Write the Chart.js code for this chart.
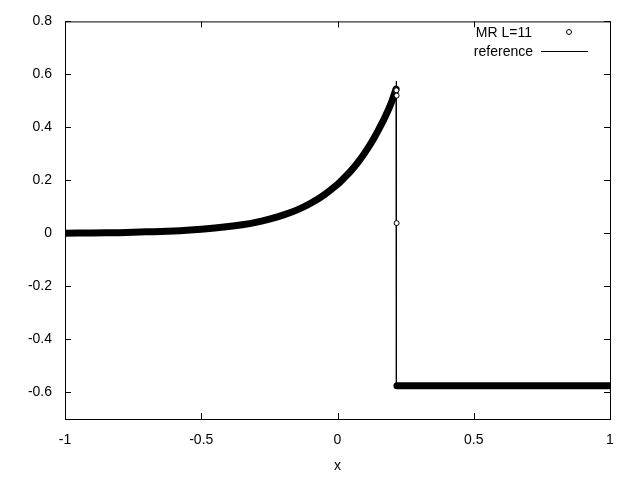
<!DOCTYPE html>
<html>
<head>
<meta charset="utf-8">
<script src="https://cdn.jsdelivr.net/npm/chart.js@4.4.0/dist/chart.umd.min.js"></script>
<style>
  html, body { margin: 0; padding: 0; background: #fff; }
  #wrap { width: 640px; height: 480px; position: relative; }
</style>
</head>
<body>
<div id="wrap"><canvas id="c" width="640" height="480"></canvas></div>
<script>
// ── Data ────────────────────────────────────────────────────────
const curveX = [-1, -0.9, -0.8, -0.7, -0.6, -0.5, -0.4, -0.35, -0.3, -0.25, -0.2, -0.15,
                -0.1, -0.05, 0, 0.025, 0.05, 0.075, 0.1, 0.125, 0.15, 0.175, 0.2, 0.215];
const curveY = [0.001, 0.002, 0.003, 0.006, 0.009, 0.016, 0.026, 0.033, 0.042, 0.054, 0.069, 0.088,
                0.113, 0.145, 0.185, 0.21, 0.237, 0.268, 0.304, 0.344, 0.39, 0.44, 0.50, 0.545];
const shockX = 0.216;
const refPeak = 0.575;
const rightState = -0.575;
const rightX = [0.218, 1];
const looseX = [0.216, 0.217, 0.217];
const looseY = [0.54, 0.52, 0.039];
const xTicks = [-1, -0.5, 0, 0.5, 1];
const yTicks = [-0.6, -0.4, -0.2, 0, 0.2, 0.4, 0.6, 0.8];

const FONT = "'Liberation Sans', Arial, sans-serif";
const FSIZE = 14;

// ── Datasets ─────────────────────────────────────────────────────
const mrBand = curveX.map((x, i) => ({ x, y: curveY[i] }));
mrBand.push({ x: shockX, y: null });
rightX.forEach(x => mrBand.push({ x, y: rightState }));

const refLine = curveX.map((x, i) => ({ x, y: curveY[i] }));
refLine.push({ x: shockX, y: refPeak });
refLine.push({ x: shockX, y: rightState });
refLine.push({ x: 1, y: rightState });

const loose = looseX.map((x, i) => ({ x, y: looseY[i] }));

// ── Gnuplot-style frame, inward ticks and legend ─────────────────
const framePlugin = {
  id: "frame",
  afterDraw(chart) {
    const { ctx, chartArea: a, scales } = chart;
    ctx.save();
    ctx.strokeStyle = "#000";
    ctx.lineWidth = 1;
    ctx.strokeRect(a.left + 0.5, a.top + 0.5, a.right - a.left, a.bottom - a.top);
    ctx.beginPath();
    const t = 6;
    xTicks.forEach(v => {
      const px = Math.round(scales.x.getPixelForValue(v)) + 0.5;
      ctx.moveTo(px, a.bottom); ctx.lineTo(px, a.bottom - t);
      ctx.moveTo(px, a.top); ctx.lineTo(px, a.top + t);
    });
    yTicks.forEach(v => {
      const py = Math.round(scales.y.getPixelForValue(v)) + 0.5;
      ctx.moveTo(a.left, py); ctx.lineTo(a.left + t, py);
      ctx.moveTo(a.right, py); ctx.lineTo(a.right - t, py);
    });
    ctx.stroke();

    // legend
    ctx.fillStyle = "#000";
    ctx.font = FSIZE + "px " + FONT;
    ctx.textAlign = "right";
    ctx.textBaseline = "middle";
    ctx.fillText("MR L=11", 532, 33);
    ctx.fillText("reference", 533, 52);
    ctx.beginPath();
    ctx.arc(569, 32, 2.5, 0, Math.PI * 2);
    ctx.fillStyle = "#fff";
    ctx.fill();
    ctx.stroke();
    ctx.beginPath();
    ctx.moveTo(541, 51.5); ctx.lineTo(588, 51.5);
    ctx.stroke();
    ctx.restore();
  },
};

new Chart(document.getElementById("c"), {
  type: "line",
  data: {
    datasets: [
      {
        label: "reference",
        data: refLine,
        borderColor: "#000",
        borderWidth: 1,
        pointRadius: 0,
        tension: 0,
        order: 3,
      },
      {
        label: "MR L=11",
        data: mrBand,
        borderColor: "#000",
        borderWidth: 7,
        borderCapStyle: "round",
        borderJoinStyle: "round",
        pointRadius: 0,
        spanGaps: false,
        tension: 0.2,
        order: 2,
      },
      {
        label: "MR loose",
        data: loose,
        showLine: false,
        pointRadius: 2.5,
        pointBorderWidth: 1,
        pointBorderColor: "#000",
        pointBackgroundColor: "#fff",
        order: 1,
      },
    ],
  },
  options: {
    responsive: false,
    animation: false,
    layout: { padding: { top: 19, right: 30, left: 0, bottom: 0 } },
    plugins: { legend: { display: false }, tooltip: { enabled: false } },
    scales: {
      x: {
        type: "linear",
        min: -1,
        max: 1,
        afterBuildTicks: s => { s.ticks = xTicks.map(v => ({ value: v })); },
        afterFit: s => { s.height = 61; },
        grid: { display: false, drawTicks: false },
        border: { display: false },
        ticks: { color: "#000", font: { family: FONT, size: FSIZE }, padding: 13, maxRotation: 0,
                 callback: v => String(v) },
        title: { display: true, text: "x", color: "#000", font: { family: FONT, size: FSIZE }, padding: { top: 0, bottom: 5 } },
      },
      y: {
        type: "linear",
        min: -0.7,
        max: 0.8,
        afterBuildTicks: s => { s.ticks = yTicks.map(v => ({ value: v })); },
        afterFit: s => { s.width = 65; },
        grid: { display: false, drawTicks: false },
        border: { display: false },
        ticks: { color: "#000", font: { family: FONT, size: FSIZE }, padding: 13,
                 callback: v => String(Math.round(v * 10) / 10) },
      },
    },
  },
  plugins: [framePlugin],
});
</script>
</body>
</html>
